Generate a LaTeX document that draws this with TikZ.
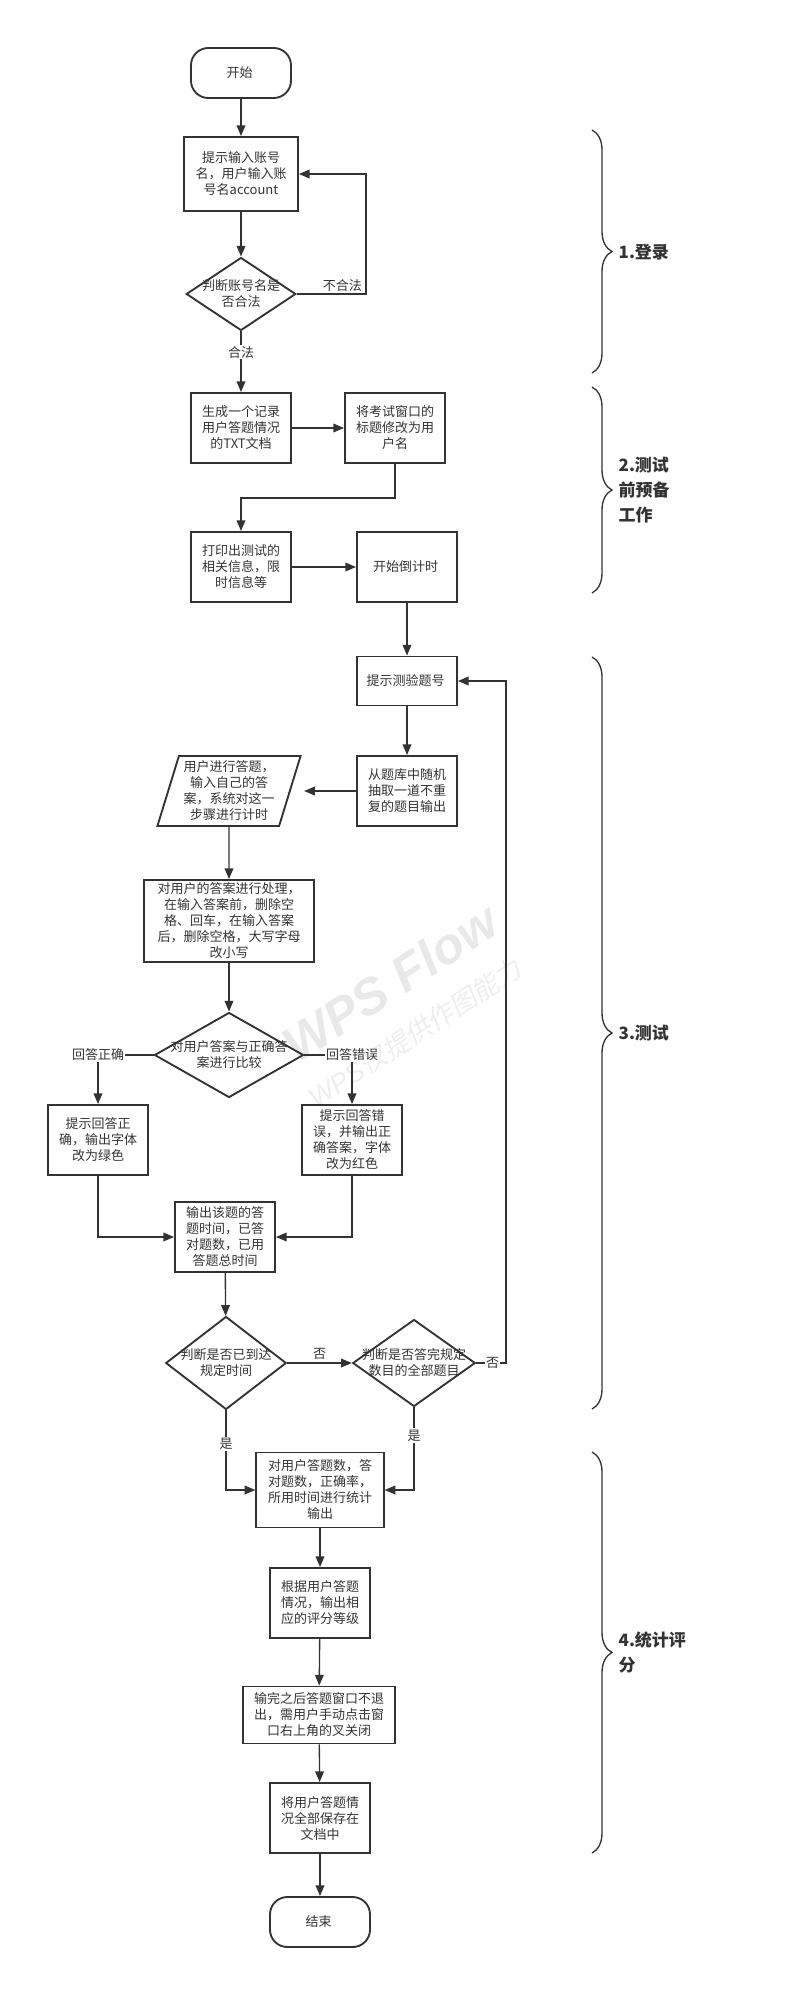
\documentclass[tikz,border=0pt]{standalone}
\usepackage{fontspec}
\setmainfont{Noto Sans CJK SC}
\newfontfamily\wmfont{Liberation Sans}
\newfontfamily\wmcjk[FakeSlant=0.2]{Noto Sans CJK SC}
\usetikzlibrary{shapes.geometric, arrows.meta, decorations.pathreplacing}
\definecolor{ink}{HTML}{333333}
\newcommand\boxfont{\fontsize{9.75}{12}\selectfont}
\newcommand\grpfont{\fontsize{12.75}{18.75}\selectfont\bfseries}

\begin{document}
\begin{tikzpicture}[x=0.75pt, y=-0.75pt, ->, >={Triangle[length=8pt, width=6.5pt]},
    color=ink, line width=1pt, font=\boxfont,
    proc/.style={draw, rectangle, line width=1.4pt, minimum width=75pt, minimum height=52.5pt, inner sep=1pt, align=center},
    term/.style={proc, rounded corners=13pt, minimum height=37.5pt},
    dec/.style={draw, diamond, line width=1.4pt, inner sep=0pt},
    dectxt/.style={align=center, inner sep=0pt},
    io/.style={draw, trapezium, trapezium left angle=72, trapezium right angle=108, trapezium stretches=true,
        line width=1.4pt, minimum width=108pt, minimum height=52.5pt, inner sep=0pt, align=center},
    lab/.style={fill=white, inner sep=1pt},
    grp/.style={-, draw, line width=1pt, decorate, decoration={brace, amplitude=15pt}},
    grplab/.style={anchor=west, inner sep=0pt, align=left, font=\grpfont}]

    \useasboundingbox (0,0) rectangle (806,2009);

    % watermark
    \node[rotate=33, text=gray!17, font=\wmfont\bfseries\itshape\fontsize{38}{38}\selectfont] (Mark) at (390,983)
    { WPS Flow };
    \node[rotate=33, text=gray!13, font=\fontsize{20}{20}\selectfont] (MarkSub) at (415,1033)
    { {\wmfont\itshape WPS}{\wmcjk 仅提供作图能力} };

    % 1. login
    \node[term] (Start) at (241,73)
    { 开始 };

    \node[proc, minimum width=85.5pt, minimum height=55.5pt] (Login) at (241,174)
    { 提示输入账号\\名，用户输入账\\号名account };

    \node[dec, minimum width=82.2pt, minimum height=54.75pt,
        label={[dectxt]center:{判断账号名是\\否合法}}] (Check) at (241,294) {};

    \coordinate (Loop) at (366,294);

    % 2. preparation
    \node[proc] (Txt) at (241,428)
    { 生成一个记录\\用户答题情况\\的TXT文档 };

    \node[proc] (Title) at (395,428)
    { 将考试窗口的\\标题修改为用\\户名 };

    \node[proc] (Info) at (241,567)
    { 打印出测试的\\相关信息，限\\时信息等 };

    \node[proc] (Timer) at (407,567)
    { 开始倒计时 };

    % ---------------------------------------------------------
    % 3. test
    \node[proc, minimum height=36.75pt] (Qno) at (407,681)
    { 提示测验题号 };

    \node[proc] (Pick) at (407,791)
    { 从题库中随机\\抽取一道不重\\复的题目输出 };

    \node[io] (Answer) at (229,791)
    { 用户进行答题，\\输入自己的答\\案，系统对这一\\步骤进行计时 };

    \node[proc, minimum width=127.5pt, minimum height=61.5pt] (Clean) at (229,921)
    { 对用户的答案进行处理，\\在输入答案前，删除空\\格、回车，在输入答案\\后，删除空格，大写字母\\改小写 };

    \node[dec, minimum width=111.75pt, minimum height=63.75pt,
        label={[dectxt]center:{对用户答案与正确答\\案进行比较}}] (Cmp) at (229,1055) {};

    \node[proc] (Right) at (98,1140)
    { 提示回答正\\确，输出字体\\改为绿色 };

    \node[proc] (Wrong) at (352,1140)
    { 提示回答错\\误，并输出正\\确答案，字体\\改为红色 };

    \node[proc] (Out) at (225,1237)
    { 输出该题的答\\题时间，已答\\对题数，已用\\答题总时间 };

    \node[dec, minimum width=90.4pt, minimum height=69.75pt,
        label={[dectxt]center:{判断是否已到达\\规定时间}}] (TimeUp) at (226,1363) {};

    \node[dec, minimum width=91.9pt, minimum height=65.25pt,
        label={[dectxt]center:{判断是否答完规定\\数目的全部题目}}] (AllDone) at (414,1363) {};

    \coordinate (Back) at (506,1363);

    % ---------------------------------------------------------
    % 4. scoring
    \node[proc, minimum width=95.6pt, minimum height=56.25pt] (Stat) at (320,1490)
    { 对用户答题数，答\\对题数，正确率，\\所用时间进行统计\\输出 };

    \node[proc] (Grade) at (320,1603)
    { 根据用户答题\\情况，输出相\\应的评分等级 };

    \node[proc, minimum width=114pt, minimum height=42.75pt] (Keep) at (319,1715)
    { 输完之后答题窗口不退\\出，需用户手动点击窗\\口右上角的叉关闭 };

    \node[proc] (Save) at (320,1818)
    { 将用户答题情\\况全部保存在\\文档中 };

    \node[term] (End) at (320,1922)
    { 结束 };

    \path[]
    {
        (Start) edge (Login)
        (Login) edge (Check)
        (Check) edge node[lab, pos=0.34] {合法} (Txt)
        (Txt) edge (Title)
        (Info) edge (Timer)

        (Timer) edge (Qno)
        (Qno) edge (Pick)
        (Pick) edge[shorten >=10pt] (Answer)
        (Answer) edge (Clean)
        (Clean) edge (Cmp)
        (Out) edge (TimeUp)
        (TimeUp) edge node[above=1pt, inner sep=1pt] {否} (AllDone)

        (Stat) edge (Grade)
        (Grade) edge (Keep)
        (Keep) edge (Save)
        (Save) edge (End)
    };

    \draw (Check.east) -- node[above, inner sep=1pt, pos=0.66] {不合法} (Loop) |- (Login.east);
    \draw (Title.south) -- ++(0,34) -| (Info.north);
    \draw (Cmp.west) -| node[lab, pos=0.5] {回答正确} (Right.north);
    \draw (Cmp.east) -| node[lab, pos=0.5] {回答错误} (Wrong.north);
    \draw (Right.south) |- (Out.west);
    \draw (Wrong.south) |- (Out.east);
    \draw (AllDone.east) -- node[lab, pos=0.55] {否} (Back) |- (Qno.east);
    \draw (TimeUp.south) |- node[lab, pos=0.21] {是} (Stat.west);
    \draw (AllDone.south) |- node[lab, pos=0.17] {是} (Stat.east);

    % stage braces
    \draw[grp] (592,130) -- (592,373);
    \draw[grp] (592,387) -- (592,593);
    \draw[grp] (592,657) -- (592,1409);
    \draw[grp] (592,1452) -- (592,1853);

    \node[grplab] (G1) at (618,252) {1.登录};
    \node[grplab] (G2) at (618,490) {2.测试\\前预备\\工作};
    \node[grplab] (G3) at (618,1033) {3.测试};
    \node[grplab] (G4) at (618,1652) {4.统计评\\分};
\end{tikzpicture}
\end{document}
